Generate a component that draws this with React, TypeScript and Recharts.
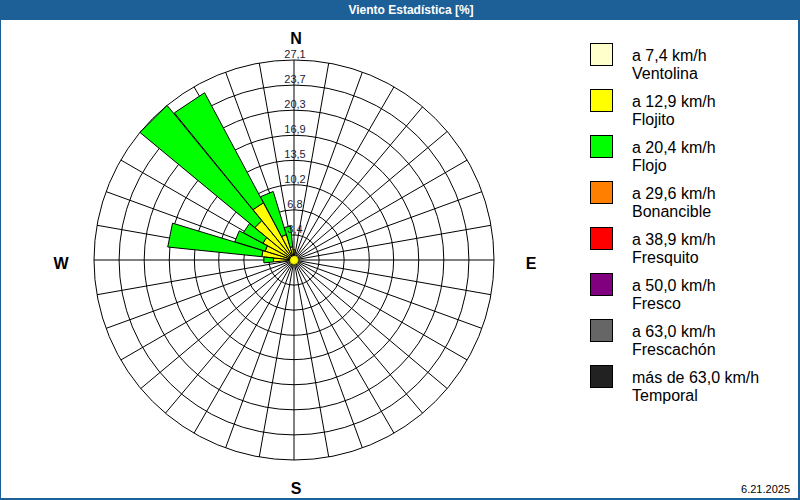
import React from "react";
import {
  RadialBarChart,
  RadialBar,
  PolarGrid,
  PolarAngleAxis,
  PolarRadiusAxis,
} from "recharts";

// 32 compass sectors, clockwise from north
const directions = [
  "N", "NbE", "NNE", "NEbN", "NE", "NEbE", "ENE", "EbN",
  "E", "EbS", "ESE", "SEbE", "SE", "SEbS", "SSE", "SbE",
  "S", "SbW", "SSW", "SWbS", "SW", "SWbW", "WSW", "WbS",
  "W", "WbN", "WNW", "NWbW", "NW", "NWbN", "NNW", "NbW",
];
const compassLabels: Record<string, string> = { N: "N", E: "E", S: "S", W: "W" };

// calm share, drawn as the dot in the middle
const calmPct = 0.6;

// share (%) per speed class and direction
const ventolina = [
  0, 0, 0, 0, 0, 0, 0, 0, 0, 0, 0, 0, 0, 0, 0, 0,
  0, 0, 0, 0, 0, 0, 0, 0, 0, 0, 0, 0, 0, 0, 0, 0,
];
const flojito = [
  0.8, 0, 0, 0, 0, 0, 0, 0, 0, 0, 0, 0, 0, 0, 0, 0,
  0, 0, 0, 0, 0, 0, 0, 0, 2.2, 3.8, 3.5, 4.2, 6.3, 8.2, 3.0, 1.2,
];
const flojo = [
  0, 0, 0, 0, 0, 0, 0, 0, 0, 0, 0, 0, 0, 0, 0, 0,
  0, 0, 0, 0, 0, 0, 0, 0, 1.3, 12.8, 4.3, 3.0, 20.6, 16.9, 6.1, 2.8,
];
const bonancible = [
  0, 0, 0, 0, 0, 0, 0, 0, 0, 0, 0, 0, 0, 0, 0, 0,
  0, 0, 0, 0, 0, 0, 0, 0, 0, 0, 0, 0, 0, 0, 0, 0,
];
const fresquito = [
  0, 0, 0, 0, 0, 0, 0, 0, 0, 0, 0, 0, 0, 0, 0, 0,
  0, 0, 0, 0, 0, 0, 0, 0, 0, 0, 0, 0, 0, 0, 0, 0,
];
const fresco = [
  0, 0, 0, 0, 0, 0, 0, 0, 0, 0, 0, 0, 0, 0, 0, 0,
  0, 0, 0, 0, 0, 0, 0, 0, 0, 0, 0, 0, 0, 0, 0, 0,
];
const frescachon = [
  0, 0, 0, 0, 0, 0, 0, 0, 0, 0, 0, 0, 0, 0, 0, 0,
  0, 0, 0, 0, 0, 0, 0, 0, 0, 0, 0, 0, 0, 0, 0, 0,
];
const temporal = [
  0, 0, 0, 0, 0, 0, 0, 0, 0, 0, 0, 0, 0, 0, 0, 0,
  0, 0, 0, 0, 0, 0, 0, 0, 0, 0, 0, 0, 0, 0, 0, 0,
];

const seriesKeys = ["ventolina", "flojito", "flojo", "bonancible", "fresquito", "fresco", "frescachon", "temporal"];
const seriesValues = [ventolina, flojito, flojo, bonancible, fresquito, fresco, frescachon, temporal];
const speedLabels = [
  "a 7,4 km/h", "a 12,9 km/h", "a 20,4 km/h", "a 29,6 km/h",
  "a 38,9 km/h", "a 50,0 km/h", "a 63,0 km/h", "más de 63,0 km/h",
];
const classNames = ["Ventolina", "Flojito", "Flojo", "Bonancible", "Fresquito", "Fresco", "Frescachón", "Temporal"];
const colors = ["#ffffcc", "#ffff00", "#00ff00", "#ff8000", "#ff0000", "#800080", "#666666", "#222222"];

const radiusMax = 27.1;
const radiusTicks = [3.4, 6.8, 10.2, 13.5, 16.9, 20.3, 23.7, 27.1];

const rows = directions.map((dir, i) => {
  const row: Record<string, string | number> = { dir, calm: calmPct };
  seriesKeys.forEach((k, s) => {
    row[k] = seriesValues[s][i];
  });
  return row;
});

// layout
const CX = 294;
const CY = 260;
const OUTER = 200;
const HALF = 360 / directions.length / 2;
const gridAngles = Array.from({ length: 36 }, (_, i) => i * 10);
const BLUE = "#1d5f97";
const FONT = '"Liberation Sans", Arial, sans-serif';
const RAD = Math.PI / 180;

const toXY = (cx: number, cy: number, r: number, a: number) =>
  `${cx + r * Math.cos(-a * RAD)},${cy + r * Math.sin(-a * RAD)}`;

// wedge with straight outer edge
const Wedge = (props: any) => {
  const { cx, cy, innerRadius, outerRadius, startAngle, endAngle, fill } = props;
  if (!(outerRadius - innerRadius > 0.05)) return <g />;
  const pts = [
    toXY(cx, cy, innerRadius, startAngle),
    toXY(cx, cy, outerRadius, startAngle),
    toXY(cx, cy, outerRadius, endAngle),
    toXY(cx, cy, innerRadius, endAngle),
  ].join(" ");
  return <polygon points={pts} fill={fill} stroke="#000" strokeWidth={1} strokeLinejoin="miter" />;
};

const CalmWedge = (props: any) => {
  const { cx, cy, outerRadius, startAngle, endAngle } = props;
  const a = toXY(cx, cy, outerRadius, startAngle);
  const b = toXY(cx, cy, outerRadius, endAngle);
  return (
    <g>
      <path d={`M${cx},${cy} L${a} A${outerRadius},${outerRadius} 0 0 0 ${b} Z`} fill="#ffff00" stroke="#ffff00" strokeWidth={0.5} />
      <path d={`M${a} A${outerRadius},${outerRadius} 0 0 0 ${b}`} fill="none" stroke="#000" strokeWidth={1} />
    </g>
  );
};

// ticks sit on the sector edge; labels go to the sector middle
const renderCompassTick = (props: any) => {
  const { x, y, payload } = props;
  const label = compassLabels[payload.value];
  if (!label) return <g />;
  const ang = Math.atan2(y - CY, x - CX) - HALF * RAD;
  return (
    <text
      x={CX + 2 + 235 * Math.cos(ang)}
      y={CY + 3 + 225 * Math.sin(ang)}
      textAnchor="middle"
      dominantBaseline="central"
      fontFamily={FONT}
      fontWeight="bold"
      fontSize={16}
      fill="#000"
    >
      {label}
    </text>
  );
};

const renderRadiusTick = (props: any) => {
  const { x, y, payload } = props;
  return (
    <text x={x + 1} y={y - 2} textAnchor="middle" fontFamily={FONT} fontSize={11} fill="#1a1a3a">
      {String(payload.value).replace(".", ",")}
    </text>
  );
};

export default function App() {
  return (
    <div
      style={{
        position: "fixed",
        left: 0,
        top: 0,
        width: 800,
        height: 500,
        background: "#fff",
        fontFamily: FONT,
        overflow: "hidden",
      }}
    >
      <div style={{ position: "absolute", left: 0, top: 0 }}>
        <RadialBarChart
          width={800}
          height={500}
          cx={CX}
          cy={CY}
          innerRadius={0}
          outerRadius={OUTER}
          startAngle={90 - HALF}
          endAngle={90 - HALF - 360}
          data={rows}
          layout="centric"
          barCategoryGap={0}
          barGap={0}
        >
          <PolarGrid
            gridType="circle"
            polarAngles={gridAngles}
            innerRadius={25}
            stroke="#000"
            strokeOpacity={1}
          />
          <PolarAngleAxis
            type="category"
            dataKey="dir"
            axisLine={false}
            tickLine={false}
            tick={renderCompassTick}
          />
          <RadialBar dataKey="calm" stackId="w" shape={CalmWedge} isAnimationActive={false} />
          {seriesKeys.map((k, s) => (
            <RadialBar
              key={k}
              dataKey={k}
              name={classNames[s]}
              stackId="w"
              fill={colors[s]}
              shape={Wedge}
              isAnimationActive={false}
            />
          ))}
          <PolarRadiusAxis
            type="number"
            domain={[0, radiusMax]}
            ticks={radiusTicks}
            angle={90}
            axisLine={false}
            tickLine={false}
            tick={renderRadiusTick}
            allowDataOverflow
          />
        </RadialBarChart>
      </div>

      <div
        style={{
          position: "absolute",
          left: 0,
          top: 0,
          width: 800,
          height: 20,
          background: BLUE,
        }}
      >
        <div
          style={{
            position: "absolute",
            left: 411,
            top: 3,
            transform: "translateX(-50%)",
            color: "#fff",
            fontWeight: "bold",
            fontSize: 12,
            whiteSpace: "nowrap",
          }}
        >
          Viento Estadística [%]
        </div>
      </div>
      <div
        style={{
          position: "absolute",
          left: 0,
          top: 0,
          width: 800,
          height: 500,
          boxSizing: "border-box",
          borderLeft: `1px solid ${BLUE}`,
          borderRight: `2px solid ${BLUE}`,
          borderBottom: `2px solid ${BLUE}`,
          pointerEvents: "none",
        }}
      />

      {classNames.map((name, s) => (
        <div key={name} style={{ position: "absolute", left: 590, top: 43 + 46 * s }}>
          <div
            style={{
              position: "absolute",
              left: 0,
              top: 0,
              width: 21,
              height: 21,
              background: colors[s],
              border: "1px solid #000",
            }}
          />
          <div
            style={{
              position: "absolute",
              left: 42,
              top: 4,
              fontSize: 16,
              lineHeight: "18px",
              color: "#000",
              whiteSpace: "nowrap",
            }}
          >
            {speedLabels[s]}
            <br />
            {name}
          </div>
        </div>
      ))}

      <div style={{ position: "absolute", right: 10, top: 483, fontSize: 11, color: "#000" }}>6.21.2025</div>
    </div>
  );
}
